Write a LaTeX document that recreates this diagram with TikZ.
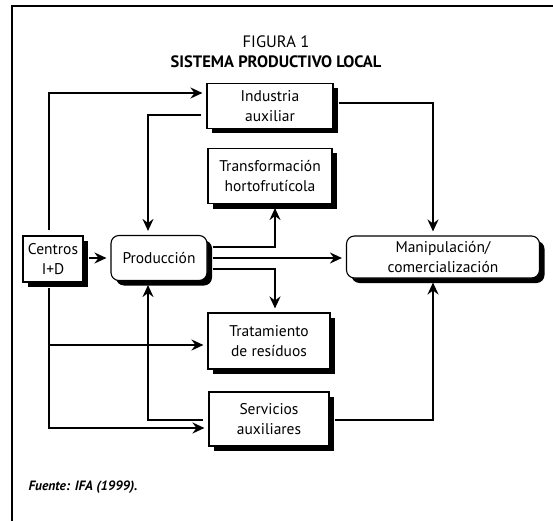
\documentclass[tikz,border=0pt]{standalone}
\usepackage{fontspec}
\setmainfont{PT Sans}
\usetikzlibrary{arrows.meta,shadows}

\begin{document}
\begin{tikzpicture}[x=1pt,y=-1pt,
  caja/.style={draw,line width=1.1pt,fill=white,align=center,inner sep=0pt,
    font=\fontsize{15.5}{19.5}\selectfont,
    drop shadow={shadow xshift=5pt,shadow yshift=-5pt,opacity=1,fill=black}},
  redonda/.style={caja,rounded corners=8pt},
  linea/.style={line width=2.6pt,shorten <=5pt},
  flecha/.style={linea,-{Stealth[length=12pt,width=11pt,inset=4pt]},shorten >=4pt}]
\useasboundingbox (0,0) rectangle (553,521);
% marco
\draw[line width=1.8pt] (12,521) -- (12,6) -- (553,6);
\node[font=\fontsize{16.5}{18}\selectfont] (fig) at (276,42) {FIGURA 1};
\node[font=\fontsize{16.5}{18}\selectfont\bfseries] (tit) at (276,62) {SISTEMA PRODUCTIVO LOCAL};

% cajas
\node[caja,minimum width=126pt,minimum height=45pt] (ind) at (270,106) {Industria\\auxiliar};
\node[caja,minimum width=124pt,minimum height=55pt] (trans) at (270,176) {Transformación\\hortofrutícola};
\node[caja,minimum width=60pt,minimum height=46pt] (cen) at (53,259) {Centros\\I+D};
\node[redonda,minimum width=96pt,minimum height=45pt] (prod) at (159,258) {Producción};
\node[redonda,minimum width=193pt,minimum height=42pt] (man) at (443,257) {Manipulación/\\comercialización};
\node[caja,minimum width=122pt,minimum height=56pt] (trat) at (269,341) {Tratamiento\\de resíduos};
\node[caja,minimum width=120pt,minimum height=54pt] (serv) at (269,419) {Servicios\\auxiliares};
\node[anchor=west,font=\fontsize{13.5}{15}\selectfont\bfseries\itshape] (fuente) at (25,487) {Fuente: IFA (1999).};

% puntos de paso
\coordinate (tTop) at (49,93);
\coordinate (tBot) at (49,428);
\coordinate (tMed) at (49,345);
\coordinate (lInd) at (148,115);
\coordinate (rInd) at (433,103);
\coordinate (up) at (275,247);
\coordinate (dn) at (275,269);
\coordinate (sLin) at (148,420);

% conexiones
\draw[flecha] (cen.north -| tTop) -- (tTop) -- (ind.west |- tTop);
\draw[flecha] (ind.west |- lInd) -- (lInd) -- (prod.north -| lInd);
\draw[flecha] (ind.east |- rInd) -- (rInd) -- (man.north -| rInd);
\draw[flecha] (cen.east |- prod.east) -- (prod.west);
\draw[flecha] (prod.east |- up) -| (trans.south -| up);
\draw[flecha] (prod.east) -- (man.west |- prod.east);
\draw[flecha] (prod.east |- dn) -| (trat.north -| dn);
\draw[flecha,shorten <=0pt] (tMed) -- (trat.west |- tMed);
\draw[flecha] (cen.south -| tBot) -- (tBot) -- (serv.west |- tBot);
\draw[flecha] (serv.west |- sLin) -- (sLin) -- (prod.south -| sLin);
\draw[flecha] (serv.east |- sLin) -| (man.south -| rInd);
\end{tikzpicture}
\end{document}
